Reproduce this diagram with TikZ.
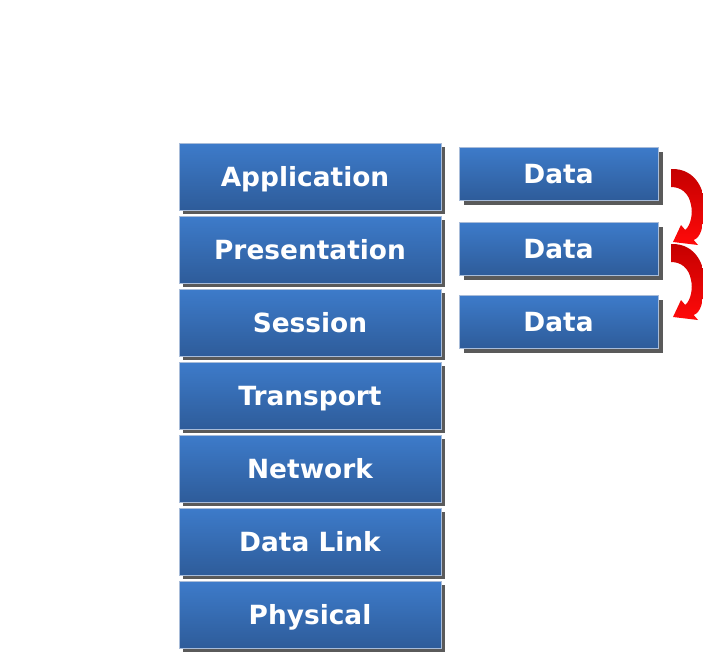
\documentclass[tikz,border=0pt]{standalone}
\usepackage{fontspec}
\setmainfont{DejaVu Sans}
\usetikzlibrary{positioning,shadows}
\definecolor{azularriba}{HTML}{3D7BCA}
\definecolor{azulabajo}{HTML}{2E5C9A}
\definecolor{borde}{HTML}{A8BCD9}
\definecolor{sombra}{HTML}{5A5A5A}
\definecolor{rojooscuro}{HTML}{C40000}
\definecolor{rojo}{HTML}{FF0A0A}
\tikzset{
  caja/.style={top color=azularriba, bottom color=azulabajo, draw=borde,
               line width=0.8pt, text=white, inner sep=0pt, outer sep=0pt,
               text height=19.3pt, text depth=0pt,
               font=\bfseries\fontsize{26.4}{30}\selectfont},
  capa/.style={caja, minimum width=262pt, minimum height=67pt,
               drop shadow={shadow xshift=4pt, shadow yshift=-4pt, fill=sombra, opacity=1}},
  dato/.style={caja, minimum width=199pt, minimum height=53pt,
               drop shadow={shadow xshift=5pt, shadow yshift=-5pt, fill=sombra, opacity=1}}
}
% flecha curva roja, pegada al lado derecho de un bloque Data
\newcommand{\flecha}[1]{%
  \begin{scope}[shift={(#1.east)}, xshift=13pt, yshift=4.5pt]
    \shade[top color=rojooscuro, bottom color=rojo]
      (0,0) .. controls (26,-1) and (36,24) .. (33,44)
      .. controls (32,58) and (30,68) .. (22.75,71) -- (27,76)
      -- (2,73) -- (10,56) -- (14.25,61)
      .. controls (20,56) and (22,44) .. (20,36)
      .. controls (18,24) and (10,18) .. (0,18) -- cycle;
  \end{scope}}

\begin{document}
\begin{tikzpicture}[x=1pt, y=-1pt]
    \useasboundingbox (0,0) rectangle (703,653);
    % pila de capas
    \node[capa] (app) at (310,176.5) {Application\kern10pt};
    \node[capa, below=6pt of app] (pres) {Presentation};
    \node[capa, below=6pt of pres] (ses) {Session};
    \node[capa, below=6pt of ses] (trans) {Transport};
    \node[capa, below=6pt of trans] (red) {Network};
    \node[capa, below=6pt of red] (enlace) {Data Link};
    \node[capa, below=6pt of enlace] (fis) {Physical};
    % bloques de datos, a la derecha
    \node[dato] (d1) at (558.5,173.5) {Data};
    \node[dato] (d2) at (558.5,248.5) {Data};
    \node[dato] (d3) at (558.5,321.5) {Data};
    \flecha{d1}
    \flecha{d2}
\end{tikzpicture}
\end{document}
